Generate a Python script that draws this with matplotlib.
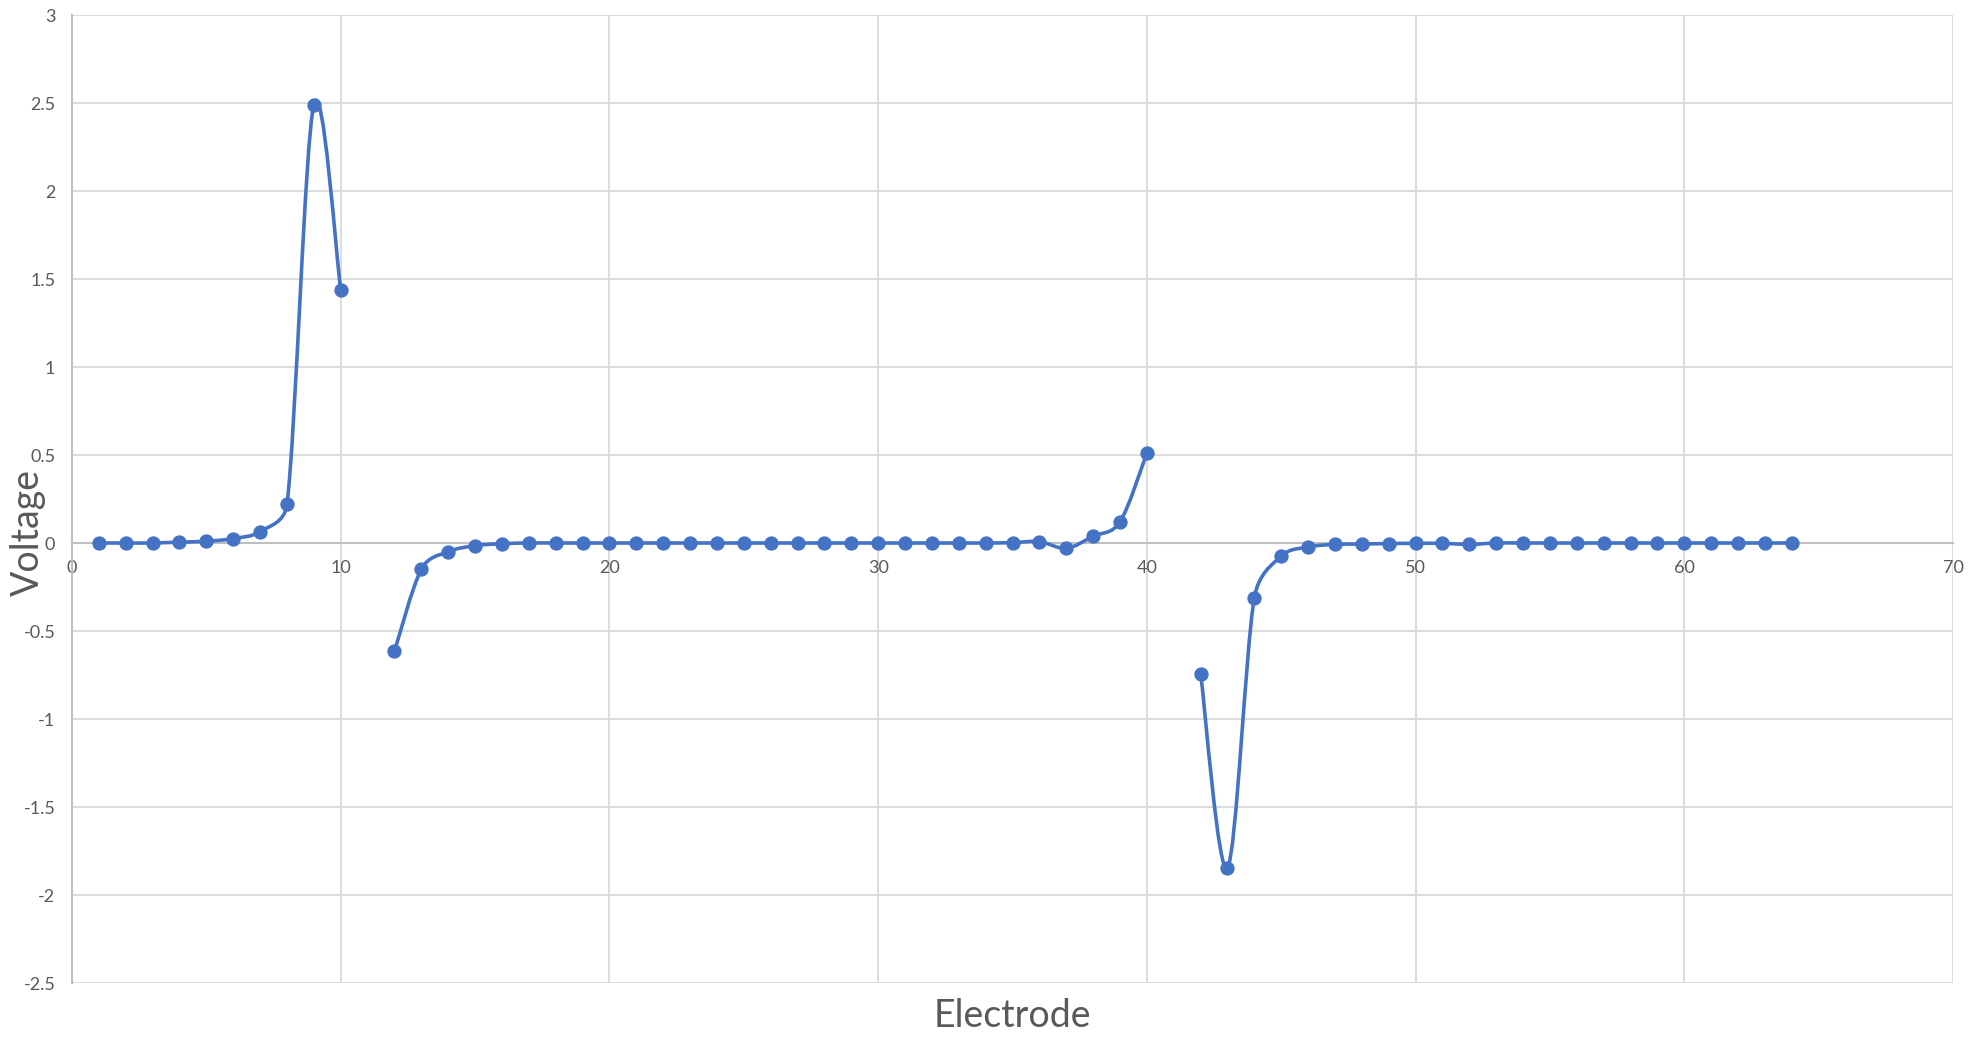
import math
import matplotlib
matplotlib.use("Agg")
import matplotlib.pyplot as plt
from matplotlib.path import Path
from matplotlib.patches import PathPatch

# Electrode positions and measured voltages (three connected runs)
electrode_a = list(range(1, 11))
voltage_a = [0.0, 0.0, 0.0, 0.005, 0.01, 0.025, 0.065, 0.22, 2.49, 1.44]

electrode_b = list(range(12, 41))
voltage_b = [-0.615, -0.15, -0.05, -0.015, -0.004,
             0.0, 0.0, 0.0, 0.0, 0.0, 0.0, 0.0, 0.0, 0.0, 0.0,
             0.0, 0.0, 0.0, 0.0, 0.0, 0.0, 0.0, 0.0, 0.002,
             0.008, -0.03, 0.038, 0.12, 0.51]

electrode_c = list(range(42, 65))
voltage_c = [-0.742, -1.845, -0.31, -0.075, -0.023, -0.008, -0.006, -0.003,
             -0.002, -0.002, -0.008,
             0.0, 0.0, 0.0, 0.0, 0.0, 0.0, 0.0, 0.0, 0.0, 0.0, 0.0, 0.0]

x_ticks = [0, 10, 20, 30, 40, 50, 60, 70]
y_ticks = [-2.5, -2, -1.5, -1, -0.5, 0, 0.5, 1, 1.5, 2, 2.5, 3]
y_tick_labels = ["-2.5", "-2", "-1.5", "-1", "-0.5", "0", "0.5", "1", "1.5", "2", "2.5", "3"]

LINE = "#4472C4"
TEXT = "#595959"
GRID = "#D9D9D9"
AXIS = "#BFBFBF"
plt.rcParams["font.family"] = ["Lato", "DejaVu Sans"]

W, H = 1980, 1037
fig = plt.figure(figsize=(W / 100, H / 100), dpi=100)
ax = fig.add_axes([72 / W, 1 - 983 / H, 1881 / W, 968 / H])
ax.set_xlim(0, 70)
ax.set_ylim(-2.5, 3)

# pixel size of one data unit, used to limit the smoothing handles
SX = 1881 / 70.0
SY = 968 / 5.5


def _dist(a, b):
    return math.hypot((a[0] - b[0]) * SX, (a[1] - b[1]) * SY)


def smooth_path(xs, ys):
    """Cubic Bezier path through the points with limited handle lengths."""
    pts = list(zip(xs, ys))
    n = len(pts)
    verts = [pts[0]]
    codes = [Path.MOVETO]
    for i in range(n - 1):
        p0 = pts[i - 1] if i > 0 else pts[i]
        p1 = pts[i]
        p2 = pts[i + 1]
        p3 = pts[i + 2] if i + 2 < n else pts[i + 1]
        d12 = _dist(p1, p2)
        d02 = _dist(p0, p2)
        d13 = _dist(p1, p3)
        f0 = 1.0 / 6.0
        f1 = 1.0 / 6.0
        if d02 > 0 and d02 * f0 > d12 / 2.0:
            f0 = (d12 / 2.0) / d02
        if d13 > 0 and d13 * f1 > d12 / 2.0:
            f1 = (d12 / 2.0) / d13
        c1 = (p1[0] + f0 * (p2[0] - p0[0]), p1[1] + f0 * (p2[1] - p0[1]))
        c2 = (p2[0] - f1 * (p3[0] - p1[0]), p2[1] - f1 * (p3[1] - p1[1]))
        verts += [c1, c2, p2]
        codes += [Path.CURVE4, Path.CURVE4, Path.CURVE4]
    return Path(verts, codes)


for xs, ys in [(electrode_a, voltage_a), (electrode_b, voltage_b), (electrode_c, voltage_c)]:
    ax.add_patch(PathPatch(smooth_path(xs, ys), facecolor="none", edgecolor=LINE,
                           lw=2.6, zorder=3, capstyle="round", joinstyle="round"))
    ax.plot(xs, ys, linestyle="none", marker="o", markersize=9.3,
            color=LINE, zorder=4)

ax.set_xticks(x_ticks)
ax.set_xticklabels([str(t) for t in x_ticks])
ax.set_yticks(y_ticks)
ax.set_yticklabels(y_tick_labels)

ax.grid(True, color=GRID, lw=1.3, zorder=0)
ax.set_axisbelow(True)
for side in ("top", "right"):
    ax.spines[side].set_visible(False)
ax.spines["bottom"].set_position(("data", 0))
ax.spines["bottom"].set_color(AXIS)
ax.spines["bottom"].set_linewidth(1.5)
ax.spines["left"].set_color(AXIS)
ax.spines["left"].set_linewidth(1.5)

ax.tick_params(axis="x", length=0, pad=12, labelsize=13, labelcolor=TEXT)
ax.tick_params(axis="y", length=0, pad=12, labelsize=13, labelcolor=TEXT)

fig.text(28 / W, 1 - 532 / H, "Voltage", rotation=90, ha="center", va="center",
         fontsize=27, color=TEXT)
fig.text(1012 / W, 1 - 1016 / H, "Electrode", ha="center", va="center",
         fontsize=27, color=TEXT)

fig.savefig("out.png", dpi=100, facecolor="white")
